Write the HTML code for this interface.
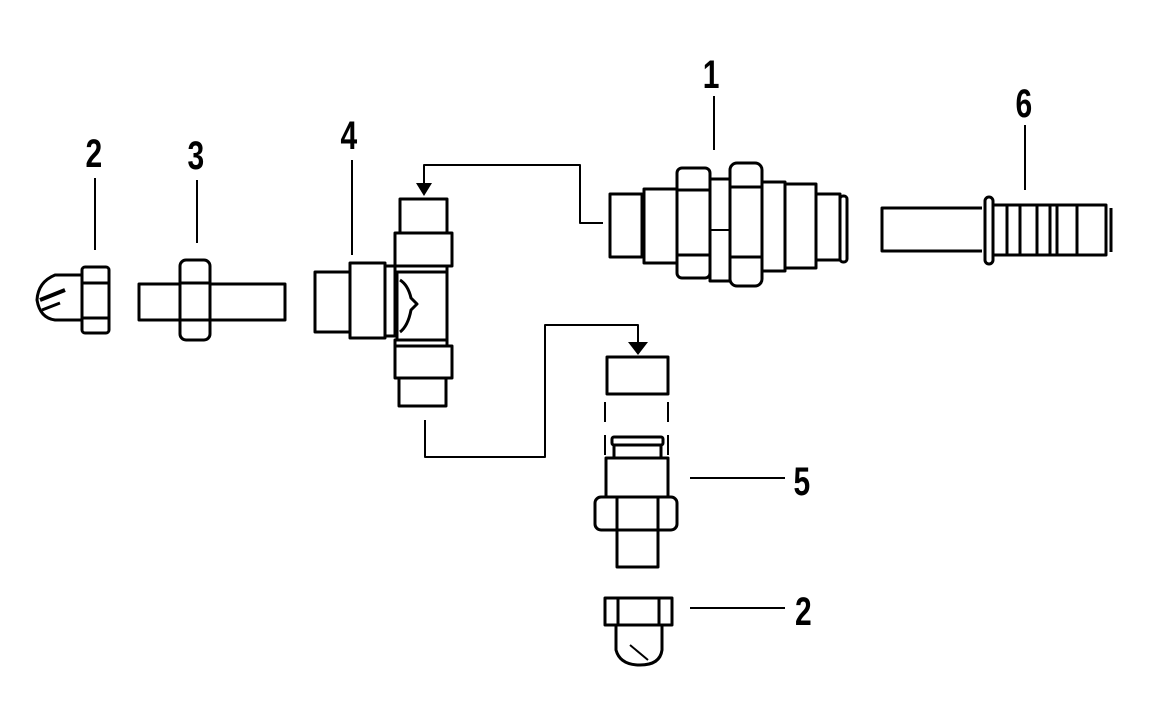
<!DOCTYPE html>
<html><head><style>
html,body{margin:0;padding:0;background:#fff;}
svg{display:block;}
text{font-family:"Liberation Sans",sans-serif;font-weight:bold;font-size:40px;fill:#000;}
</style></head><body>
<svg width="1153" height="715" viewBox="0 0 1153 715" xmlns="http://www.w3.org/2000/svg">
<g fill="none" stroke="#000" stroke-width="3" stroke-linejoin="round">
<line x1="714" y1="96" x2="714" y2="150" stroke-width="2"/>
<line x1="1025" y1="125" x2="1025" y2="190" stroke-width="2"/>
<line x1="95" y1="178" x2="95" y2="250" stroke-width="2"/>
<line x1="197" y1="180" x2="197" y2="243" stroke-width="2"/>
<line x1="352" y1="160" x2="352" y2="255" stroke-width="2"/>
<line x1="690" y1="478" x2="785" y2="478" stroke-width="2"/>
<line x1="690" y1="608" x2="785" y2="608" stroke-width="2"/>

<path d="M82 275 L55 275 Q38 282 37 300 Q40 318 55 320 L82 320"/>
<path d="M40 300 L65 290" stroke-width="4"/>
<path d="M42 310 L60 303"/>
<rect x="82" y="267" width="27" height="66" rx="3"/>
<line x1="82" y1="283" x2="109" y2="283"/>
<line x1="82" y1="318" x2="109" y2="318"/>

<rect x="139" y="284" width="146" height="36"/>
<rect x="180" y="260" width="30" height="80" rx="6" fill="#fff"/>
<line x1="180" y1="283" x2="210" y2="283"/>
<line x1="180" y1="320" x2="210" y2="320"/>

<rect x="315" y="272" width="35" height="60"/>
<rect x="350" y="263" width="35" height="75"/>
<rect x="385" y="266" width="10" height="70"/>
<rect x="400" y="199" width="47" height="34"/>
<rect x="395" y="233" width="57" height="33"/>
<rect x="395" y="266" width="52" height="6"/>
<rect x="397" y="272" width="50" height="68"/>
<path d="M400 280 Q408 285 411 298 L417 304 L411 310 Q408 326 400 332"/>
<rect x="395" y="340" width="52" height="6"/>
<rect x="395" y="346" width="57" height="32"/>
<rect x="399" y="378" width="47" height="28"/>

<polyline points="424,183 424,165 580,165 580,223 603,223" stroke-width="2"/>
<rect x="610" y="194" width="32" height="63"/>
<rect x="644" y="189" width="33" height="74"/>
<rect x="677" y="168" width="33" height="110" rx="5"/>
<line x1="677" y1="190" x2="710" y2="190"/>
<line x1="677" y1="255" x2="710" y2="255"/>
<rect x="710" y="179" width="20" height="102"/>
<line x1="710" y1="230" x2="730" y2="230" stroke-width="2"/>
<rect x="730" y="163" width="32" height="123" rx="7" fill="#fff"/>
<line x1="730" y1="187" x2="762" y2="187"/>
<line x1="730" y1="257" x2="762" y2="257"/>
<rect x="762" y="182" width="23" height="89"/>
<rect x="785" y="184" width="31" height="84"/>
<rect x="816" y="194" width="24" height="66"/>
<rect x="840" y="196" width="7" height="66" rx="3"/>

<polyline points="982,208 882,208 882,251 982,251"/>
<rect x="985" y="197" width="8" height="67" rx="4"/>
<rect x="993" y="205" width="113" height="50"/>
<line x1="1007" y1="205" x2="1007" y2="255"/>
<line x1="1020" y1="205" x2="1020" y2="255"/>
<line x1="1037" y1="205" x2="1037" y2="255"/>
<line x1="1050" y1="205" x2="1050" y2="255"/>
<line x1="1057" y1="205" x2="1057" y2="255"/>
<line x1="1077" y1="205" x2="1077" y2="255"/>
<line x1="1111" y1="208" x2="1111" y2="252"/>

<polyline points="425,420 425,457 545,457 545,325 638,325 638,343" stroke-width="2"/>
<rect x="607" y="357" width="61" height="37"/>
<g stroke-width="2">
<line x1="605" y1="402" x2="605" y2="422"/><line x1="668" y1="402" x2="668" y2="422"/>
<line x1="605" y1="435" x2="605" y2="455"/><line x1="668" y1="435" x2="668" y2="455"/>
</g>
<rect x="612" y="437" width="51" height="8" rx="2"/>
<rect x="614" y="445" width="47" height="13"/>
<rect x="606" y="458" width="62" height="39"/>
<rect x="595" y="497" width="82" height="33" rx="6" fill="#fff"/>
<line x1="617" y1="497" x2="617" y2="530"/>
<line x1="658" y1="497" x2="658" y2="530"/>
<rect x="617" y="530" width="41" height="37"/>

<rect x="605" y="598" width="67" height="27"/>
<line x1="618" y1="598" x2="618" y2="625"/>
<line x1="659" y1="598" x2="659" y2="625"/>
<path d="M616 625 L616 650 Q620 665 640 665 Q660 665 662 650 L662 625"/>
<path d="M630 645 L648 660" stroke-width="2"/>
</g>
<polygon points="416,183 432,183 424,196" fill="#000"/>
<polygon points="628,342 648,342 638,355" fill="#000"/>
<g transform="scale(0.75,1)">
<text x="937" y="88">1</text>
<text x="1354" y="117">6</text>
<text x="114" y="167">2</text>
<text x="250" y="169">3</text>
<text x="454" y="149">4</text>
<text x="1058" y="495">5</text>
<text x="1060" y="625">2</text>
</g>
</svg>
</body></html>
